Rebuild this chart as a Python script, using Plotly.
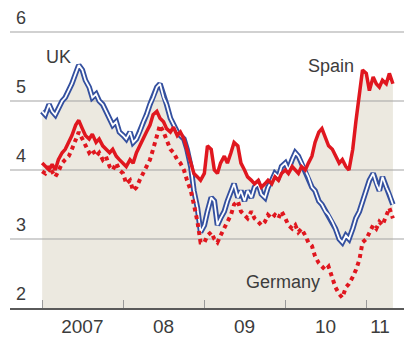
import plotly.graph_objects as go

# Semi-monthly observation dates, Jan 2007 to mid-May 2011
dates = []
for year in range(2007, 2012):
    for month in range(1, 13):
        for day in (1, 15):
            dates.append(f"{year}-{month:02d}-{day:02d}")
dates = dates[:105]

# 10-year government bond yields, %
uk = [4.85, 4.80, 4.95, 4.85, 4.80, 4.90, 5.00, 5.05, 5.15, 5.25,
      5.40, 5.52, 5.45, 5.30, 5.20, 5.05, 5.10, 5.00, 4.95, 4.85,
      4.75, 4.65, 4.70, 4.55, 4.50, 4.45, 4.55, 4.40, 4.45, 4.55,
      4.70, 4.80, 4.95, 5.05, 5.20, 5.25, 5.05, 4.95, 4.75, 4.65,
      4.55, 4.50, 4.45, 4.30, 4.05, 3.70, 3.45, 3.10, 3.20, 3.40,
      3.60, 3.55, 3.20, 3.30, 3.40, 3.55, 3.70, 3.80, 3.60, 3.70,
      3.55, 3.70, 3.60, 3.75, 3.80, 3.65, 3.60, 3.75, 3.85, 3.95,
      3.90, 4.05, 4.10, 4.00, 4.15, 4.25, 4.20, 4.10, 4.00, 3.90,
      3.75, 3.70, 3.55, 3.50, 3.40, 3.35, 3.25, 3.15, 3.00, 2.95,
      3.05, 3.00, 3.15, 3.30, 3.40, 3.55, 3.70, 3.85, 3.95, 3.80,
      3.70, 3.90, 3.75, 3.65, 3.50]

spain = [4.10, 4.05, 4.00, 4.08, 4.00, 4.15, 4.25, 4.30, 4.40, 4.50,
         4.65, 4.72, 4.60, 4.50, 4.45, 4.52, 4.40, 4.45, 4.35, 4.30,
         4.25, 4.30, 4.20, 4.15, 4.10, 4.05, 4.15, 4.10, 4.25, 4.35,
         4.45, 4.55, 4.65, 4.80, 4.85, 4.75, 4.70, 4.60, 4.55, 4.62,
         4.50, 4.55, 4.45, 4.30, 4.10, 3.95, 3.90, 3.85, 3.95, 4.35,
         4.30, 4.00, 3.95, 4.10, 4.20, 4.10, 4.25, 4.40, 4.35, 4.10,
         4.00, 3.90, 3.85, 3.80, 3.85, 3.75, 3.80, 3.85, 3.80, 3.90,
         3.85, 3.95, 4.00, 3.95, 4.05, 4.00, 3.95, 4.05, 4.00, 4.10,
         4.20, 4.40, 4.55, 4.60, 4.45, 4.35, 4.30, 4.20, 4.10, 4.15,
         4.05, 4.00, 4.30, 4.70, 5.10, 5.45, 5.40, 5.15, 5.35, 5.25,
         5.20, 5.30, 5.25, 5.40, 5.25]

germany = [3.98, 3.95, 4.05, 3.98, 3.90, 3.98, 4.10, 4.15, 4.20, 4.30,
           4.45, 4.55, 4.45, 4.35, 4.25, 4.30, 4.20, 4.25, 4.15, 4.20,
           4.05, 4.00, 4.10, 4.00, 3.95, 3.80, 3.85, 3.70, 3.75, 3.85,
           3.95, 4.05, 4.15, 4.30, 4.50, 4.65, 4.55, 4.45, 4.30, 4.25,
           4.15, 4.10, 4.00, 3.85, 3.70, 3.50, 3.25, 2.95, 2.95, 3.05,
           3.10, 3.00, 2.95, 3.05, 3.15, 3.25, 3.35, 3.50, 3.55, 3.40,
           3.35, 3.30, 3.40, 3.30, 3.25, 3.20, 3.25, 3.35, 3.30, 3.35,
           3.30, 3.40, 3.30, 3.20, 3.15, 3.20, 3.10, 3.15, 3.05, 2.95,
           2.90, 2.75, 2.65, 2.60, 2.55, 2.60, 2.45, 2.30, 2.20, 2.15,
           2.30, 2.35, 2.45, 2.55, 2.70, 2.95, 3.00, 3.10, 3.20, 3.15,
           3.25, 3.20, 3.35, 3.45, 3.30]

y_ticks = [2, 3, 4, 5, 6]
year_starts = ["2007-01-01", "2008-01-01", "2009-01-01", "2010-01-01", "2011-01-01"]
x_label_pos = ["2007-07-01", "2008-07-01", "2009-07-01", "2010-07-01", "2011-03-04"]
x_labels = ["2007", "08", "09", "10", "11"]

x_range = ["2006-08-09", "2011-06-20"]
y_range = [2, 6.058]

FONT = "Liberation Sans, Arial, sans-serif"
TEXT = "#3c3c3c"
RED = "#e0171f"
BLUE = "#34509f"

envelope = [max(a, b, c) for a, b, c in zip(uk, spain, germany)]

fig = go.Figure()

# shaded area under the highest of the three curves
fig.add_trace(go.Scatter(x=dates, y=envelope, mode="lines", line=dict(width=0),
                         fill="tozeroy", fillcolor="#ece9e0",
                         hoverinfo="skip", showlegend=False))

# horizontal rules sit above the shading but below the series
for v in y_ticks[1:]:
    fig.add_trace(go.Scatter(x=x_range, y=[v, v], mode="lines",
                             line=dict(color="#a3a3a3", width=1),
                             hoverinfo="skip", showlegend=False))

# UK: blue tube (thick blue under thin white)
fig.add_trace(go.Scatter(x=dates, y=uk, mode="lines", name="UK",
                         line=dict(color=BLUE, width=5.5), showlegend=False))
fig.add_trace(go.Scatter(x=dates, y=uk, mode="lines", name="UK",
                         line=dict(color="white", width=1.8), showlegend=False,
                         hoverinfo="skip"))

fig.add_trace(go.Scatter(x=dates, y=germany, mode="lines", name="Germany",
                         line=dict(color=RED, width=4, dash="dot"), showlegend=False))
fig.add_trace(go.Scatter(x=dates, y=spain, mode="lines", name="Spain",
                         line=dict(color=RED, width=3.5), showlegend=False))

annotations = []
for v in y_ticks:
    annotations.append(dict(x=0, xref="paper", xanchor="left", xshift=4,
                            y=v, yref="y", yanchor="bottom", yshift=2,
                            text=str(v), showarrow=False,
                            font=dict(family=FONT, size=18, color=TEXT)))

series_labels = [("UK", "2007-03-14", 5.645), ("Spain", "2010-07-26", 5.507),
                 ("Germany", "2009-12-22", 2.384)]
for name, xd, yv in series_labels:
    annotations.append(dict(x=xd, y=yv, xref="x", yref="y", text=name,
                            showarrow=False, xanchor="center", yanchor="middle",
                            font=dict(family=FONT, size=18, color=TEXT)))

fig.update_layout(
    width=406, height=347,
    margin=dict(l=10, r=2, t=28, b=39),
    paper_bgcolor="white", plot_bgcolor="white",
    showlegend=False,
    annotations=annotations,
    xaxis=dict(type="date", range=x_range, showgrid=False, zeroline=False,
               showline=True, linecolor="#5a5a5a", linewidth=1.5,
               tickmode="array", tickvals=x_label_pos, ticktext=x_labels,
               ticks="", tickfont=dict(family=FONT, size=19, color=TEXT),
               minor=dict(tickmode="array", tickvals=year_starts, ticks="inside",
                          ticklen=8, tickwidth=1, tickcolor="#9a9a9a", showgrid=False)),
    yaxis=dict(range=y_range, showgrid=False, zeroline=False,
               showticklabels=False, ticks=""),
)

fig.write_html("out.html")
